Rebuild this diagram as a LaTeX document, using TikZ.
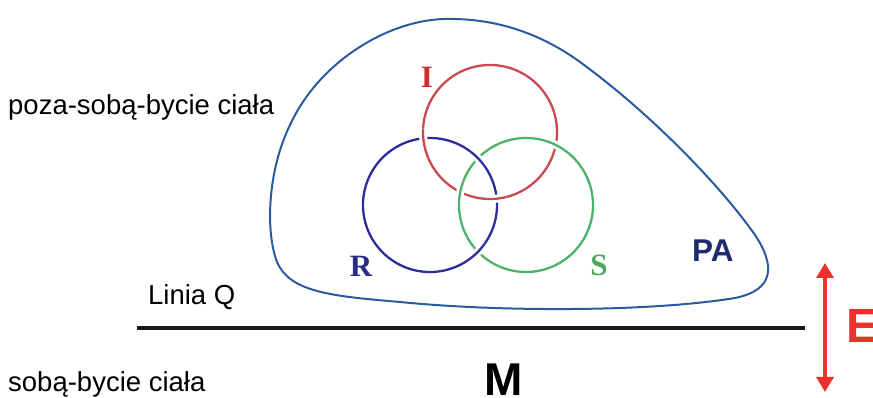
\documentclass[tikz,border=0pt]{standalone}
\usepackage{fontspec}
\setmainfont{Liberation Sans}
\newfontfamily\tnr{Liberation Serif}
\usetikzlibrary{intersections,arrows.meta}
\definecolor{colI}{HTML}{C84A4E}
\definecolor{colR}{HTML}{2C2C9C}
\definecolor{colS}{HTML}{4DB26A}
\definecolor{letI}{HTML}{D02C2C}
\definecolor{letR}{HTML}{2B2B8A}
\definecolor{letS}{HTML}{4AA85E}
\definecolor{blob}{HTML}{2A5AA0}
\definecolor{paC}{HTML}{1E2C6B}
\definecolor{arrE}{HTML}{E8322B}
\tikzset{
  ring/.style={line width=2.3pt},
  gapline/.style={white, line width=8pt},
  label/.style={inner sep=0pt, font=\fontsize{27.5}{30}\selectfont},
  ringlabel/.style={inner sep=0pt, font=\fontsize{31}{34}\tnr\bfseries},
}
\begin{document}
\begin{tikzpicture}[x=1pt,y=1pt]
\useasboundingbox (0,0) rectangle (873,398);
% outer blob PA
\draw[blob, line width=2pt]
 (445,379) .. controls (495,380) and (540,365) .. (580,336)
 .. controls (650,285) and (720,213) .. (755,163)
 .. controls (775,133) and (775,108) .. (735,100)
 .. controls (650,86) and (500,86) .. (400,96)
 .. controls (330,102) and (290,106) .. (277,136)
 .. controls (265,168) and (268,228) .. (290,273)
 .. controls (320,338) and (390,378) .. (445,379) -- cycle;
% ring centres
\coordinate (I) at (490,266);
\coordinate (R) at (430,193);
\coordinate (S) at (526,193);
\draw[ring, colI, name path=cI] (I) circle (67);
\draw[ring, colR, name path=cR] (R) circle (67);
\draw[ring, colS, name path=cS] (S) circle (67);
% I over R
\path[name intersections={of=cI and cR, name=a}];
\begin{scope}
 \clip (a-1) circle (10) (a-2) circle (10);
 \draw[gapline] (I) circle (67);
 \draw[ring, colI] (I) circle (67);
\end{scope}
% S over I
\path[name intersections={of=cS and cI, name=b}];
\begin{scope}
 \clip (b-1) circle (10) (b-2) circle (10);
 \draw[gapline] (S) circle (67);
 \draw[ring, colS] (S) circle (67);
\end{scope}
% R over S
\path[name intersections={of=cR and cS, name=c}];
\begin{scope}
 \clip (c-1) circle (10) (c-2) circle (10);
 \draw[gapline] (R) circle (67);
 \draw[ring, colR] (R) circle (67);
\end{scope}
% ring labels
\node[ringlabel, text=letI, anchor=base] (tI) at (427,310) {I};
\node[ringlabel, text=letR, anchor=base] (tR) at (361,121) {R};
\node[ringlabel, text=letS, anchor=base] (tS) at (599,122) {S};
\node[inner sep=0pt, anchor=base west, text=paC, font=\fontsize{31.5}{33}\selectfont\bfseries] (PA) at (692,136) {PA};
% line Q
\coordinate (Q1) at (137,70);
\coordinate (Q2) at (805,70);
\draw[line width=4.5pt, black!90] (Q1) -- (Q2);
% arrow E
\coordinate (E1) at (825,135);
\coordinate (E2) at (825,6);
\draw[arrE, line width=3.5pt, {Triangle[width=17pt,length=15pt]}-{Triangle[width=17pt,length=15pt]}] (E1) -- (E2);
\node[inner sep=0pt, anchor=base west, text=arrE, font=\fontsize{48}{50}\selectfont\bfseries] (E) at (846,55) {E};
% texts
\node[label, anchor=base west] (poza) at (8,283) {poza-sobą-bycie ciała};
\node[label, anchor=base west] (soba) at (8,6) {sobą-bycie ciała};
\node[label, anchor=base west] (linia) at (148,93) {Linia Q};
\node[inner sep=0pt, anchor=base, font=\fontsize{46}{48}\selectfont\bfseries] (M) at (503.5,2) {M};
\end{tikzpicture}
\end{document}
